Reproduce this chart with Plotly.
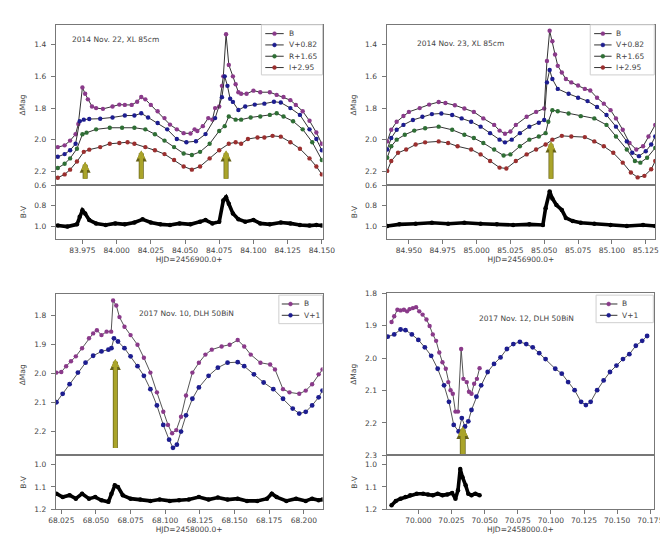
import plotly.graph_objects as go

# ---------------- DATA ----------------
# Panel 1: 2014 Nov. 22, XL 85cm  (HJD-2456900)
p1_b_x = [83.957, 83.962, 83.966, 83.970, 83.972, 83.975, 83.977, 83.979, 83.982, 83.985, 83.990, 83.997, 84.002, 84.006, 84.011, 84.015, 84.018, 84.021, 84.025, 84.030, 84.035, 84.039, 84.044, 84.049, 84.054, 84.057, 84.059, 84.063, 84.067, 84.070, 84.072, 84.075, 84.077, 84.078, 84.080, 84.082, 84.085, 84.087, 84.089, 84.091, 84.095, 84.100, 84.105, 84.112, 84.117, 84.122, 84.127, 84.131, 84.136, 84.141, 84.146, 84.150]
p1_b_y = [2.046, 2.035, 2.005, 1.965, 1.90, 1.67, 1.71, 1.745, 1.79, 1.80, 1.805, 1.79, 1.778, 1.78, 1.78, 1.76, 1.73, 1.745, 1.78, 1.82, 1.863, 1.904, 1.934, 1.958, 1.96, 1.934, 1.944, 1.914, 1.863, 1.873, 1.80, 1.79, 1.66, 1.60, 1.335, 1.528, 1.60, 1.65, 1.70, 1.71, 1.71, 1.69, 1.70, 1.70, 1.717, 1.73, 1.75, 1.78, 1.82, 1.88, 1.954, 2.025]
p1_v_x = [83.957, 83.962, 83.966, 83.970, 83.973, 83.976, 83.980, 83.988, 83.997, 84.006, 84.013, 84.018, 84.023, 84.030, 84.037, 84.044, 84.051, 84.058, 84.065, 84.072, 84.077, 84.079, 84.081, 84.083, 84.085, 84.089, 84.094, 84.101, 84.108, 84.115, 84.120, 84.127, 84.134, 84.141, 84.146, 84.150]
p1_v_y = [2.107, 2.09, 2.066, 2.025, 1.883, 1.873, 1.869, 1.867, 1.859, 1.847, 1.847, 1.833, 1.859, 1.894, 1.934, 1.995, 2.015, 2.009, 1.964, 1.863, 1.731, 1.60, 1.66, 1.741, 1.761, 1.812, 1.79, 1.778, 1.772, 1.76, 1.765, 1.80, 1.843, 1.934, 1.995, 2.066]
p1_r_x = [83.957, 83.962, 83.966, 83.971, 83.975, 83.978, 83.985, 83.995, 84.004, 84.013, 84.021, 84.028, 84.035, 84.042, 84.049, 84.055, 84.061, 84.068, 84.075, 84.079, 84.082, 84.087, 84.091, 84.098, 84.105, 84.112, 84.117, 84.122, 84.129, 84.136, 84.143, 84.150]
p1_r_y = [2.178, 2.151, 2.117, 2.056, 1.965, 1.955, 1.934, 1.924, 1.924, 1.924, 1.934, 1.965, 2.005, 2.046, 2.086, 2.096, 2.076, 2.025, 1.944, 1.914, 1.853, 1.873, 1.873, 1.859, 1.853, 1.843, 1.833, 1.853, 1.883, 1.934, 2.015, 2.127]
p1_i_x = [83.957, 83.962, 83.966, 83.971, 83.976, 83.980, 83.988, 83.995, 84.002, 84.008, 84.013, 84.021, 84.028, 84.035, 84.042, 84.049, 84.055, 84.061, 84.068, 84.075, 84.082, 84.087, 84.091, 84.096, 84.103, 84.108, 84.114, 84.120, 84.127, 84.134, 84.141, 84.146, 84.150]
p1_i_y = [2.239, 2.218, 2.188, 2.137, 2.076, 2.062, 2.046, 2.025, 2.02, 2.015, 2.025, 2.046, 2.066, 2.09, 2.127, 2.168, 2.188, 2.168, 2.117, 2.066, 2.025, 2.015, 2.025, 1.995, 1.985, 1.985, 1.975, 1.98, 2.015, 2.056, 2.117, 2.168, 2.218]
p1_bv_x = [83.957, 83.964, 83.971, 83.973, 83.975, 83.977, 83.980, 83.985, 83.992, 83.999, 84.006, 84.013, 84.019, 84.025, 84.032, 84.039, 84.046, 84.054, 84.061, 84.065, 84.070, 84.075, 84.078, 84.080, 84.082, 84.085, 84.089, 84.094, 84.100, 84.105, 84.112, 84.120, 84.127, 84.134, 84.141, 84.146, 84.150]
p1_bv_y = [0.99, 1.0, 0.978, 0.905, 0.843, 0.874, 0.937, 0.969, 0.984, 0.969, 0.978, 0.96, 0.93, 0.96, 0.978, 0.984, 0.969, 0.978, 0.953, 0.937, 0.969, 0.953, 0.748, 0.717, 0.78, 0.874, 0.928, 0.953, 0.937, 0.969, 0.978, 0.96, 0.969, 0.984, 0.99, 0.984, 0.99]
p1_arrow_x = [83.977, 84.018, 84.080]
p1_arrow_tip = [2.139, 2.067, 2.067]
p1_arrow_tail = [2.255, 2.255, 2.255]

# Panel 2: 2014 Nov. 23, XL 85cm  (HJD-2456900)
p2_b_x = [84.934, 84.937, 84.941, 84.946, 84.950, 84.958, 84.965, 84.972, 84.977, 84.984, 84.991, 84.998, 85.005, 85.013, 85.017, 85.021, 85.025, 85.029, 85.037, 85.044, 85.050, 85.052, 85.054, 85.056, 85.058, 85.060, 85.063, 85.066, 85.070, 85.075, 85.080, 85.084, 85.089, 85.094, 85.099, 85.103, 85.108, 85.113, 85.118, 85.123, 85.127, 85.132]
p2_b_y = [2.01, 1.937, 1.886, 1.85, 1.824, 1.80, 1.778, 1.762, 1.768, 1.782, 1.803, 1.824, 1.865, 1.906, 1.942, 1.962, 1.948, 1.906, 1.855, 1.824, 1.803, 1.503, 1.313, 1.379, 1.462, 1.534, 1.576, 1.617, 1.638, 1.658, 1.679, 1.689, 1.735, 1.772, 1.813, 1.865, 1.937, 2.02, 2.061, 2.041, 1.979, 1.906]
p2_v_x = [84.934, 84.937, 84.941, 84.946, 84.953, 84.960, 84.967, 84.974, 84.982, 84.989, 84.996, 85.003, 85.010, 85.017, 85.021, 85.026, 85.032, 85.039, 85.046, 85.050, 85.052, 85.054, 85.056, 85.060, 85.068, 85.075, 85.082, 85.089, 85.096, 85.103, 85.111, 85.115, 85.120, 85.125, 85.129, 85.132]
p2_v_y = [2.061, 1.989, 1.937, 1.906, 1.875, 1.855, 1.838, 1.834, 1.844, 1.865, 1.886, 1.917, 1.958, 1.999, 2.016, 1.999, 1.958, 1.917, 1.892, 1.875, 1.638, 1.56, 1.617, 1.679, 1.71, 1.735, 1.756, 1.793, 1.844, 1.917, 2.01, 2.082, 2.103, 2.072, 2.03, 1.979]
p2_r_x = [84.934, 84.937, 84.941, 84.947, 84.954, 84.962, 84.972, 84.982, 84.991, 84.998, 85.005, 85.013, 85.020, 85.025, 85.032, 85.039, 85.046, 85.051, 85.053, 85.056, 85.060, 85.068, 85.077, 85.087, 85.096, 85.103, 85.111, 85.117, 85.121, 85.126, 85.132]
p2_r_y = [2.113, 2.041, 1.999, 1.968, 1.942, 1.927, 1.917, 1.937, 1.968, 1.989, 2.02, 2.061, 2.099, 2.092, 2.041, 1.999, 1.979, 1.958, 1.886, 1.813, 1.82, 1.834, 1.851, 1.865, 1.906, 1.979, 2.061, 2.134, 2.144, 2.113, 2.051]
p2_i_x = [84.934, 84.937, 84.942, 84.948, 84.955, 84.962, 84.972, 84.979, 84.986, 84.996, 85.003, 85.010, 85.017, 85.022, 85.029, 85.037, 85.044, 85.051, 85.056, 85.063, 85.070, 85.080, 85.087, 85.094, 85.101, 85.108, 85.114, 85.119, 85.124, 85.129, 85.132]
p2_i_y = [2.196, 2.134, 2.082, 2.061, 2.03, 2.016, 2.01, 2.02, 2.041, 2.061, 2.092, 2.134, 2.175, 2.181, 2.134, 2.092, 2.061, 2.03, 1.999, 1.975, 1.979, 1.983, 2.01, 2.041, 2.082, 2.144, 2.206, 2.237, 2.227, 2.186, 2.134]
p2_bv_x = [84.934, 84.943, 84.955, 84.967, 84.979, 84.991, 85.003, 85.015, 85.027, 85.039, 85.049, 85.051, 85.054, 85.056, 85.059, 85.063, 85.066, 85.071, 85.077, 85.087, 85.099, 85.111, 85.123, 85.132]
p2_bv_y = [0.994, 0.978, 0.972, 0.963, 0.972, 0.963, 0.972, 0.978, 0.984, 0.978, 0.984, 0.823, 0.662, 0.73, 0.792, 0.839, 0.916, 0.947, 0.963, 0.972, 0.984, 0.994, 0.984, 0.994]
p2_arrow_x = [85.055]
p2_arrow_tip = [2.01]
p2_arrow_tail = [2.255]

# Panel 3: 2017 Nov. 10, DLH 50BiN  (HJD-2458000)
p3_b_x = [68.0215, 68.025, 68.0285, 68.032, 68.0355, 68.040, 68.045, 68.048, 68.0507, 68.054, 68.0577, 68.061, 68.0624, 68.0647, 68.067, 68.0706, 68.075, 68.080, 68.0846, 68.0893, 68.094, 68.0986, 68.102, 68.105, 68.108, 68.1114, 68.115, 68.1196, 68.1243, 68.129, 68.1336, 68.1407, 68.1465, 68.1523, 68.157, 68.1617, 68.1687, 68.1757, 68.1792, 68.185, 68.1897, 68.1967, 68.2014, 68.206, 68.2107, 68.2135]
p3_b_y = [1.997, 1.995, 1.975, 1.958, 1.941, 1.913, 1.879, 1.862, 1.851, 1.868, 1.856, 1.856, 1.749, 1.766, 1.806, 1.839, 1.868, 1.901, 1.946, 1.997, 2.065, 2.132, 2.177, 2.206, 2.195, 2.149, 2.076, 1.997, 1.963, 1.935, 1.918, 1.907, 1.901, 1.885, 1.907, 1.935, 1.963, 1.969, 1.986, 2.054, 2.065, 2.07, 2.059, 2.037, 2.003, 1.986]
p3_v_x = [68.0215, 68.026, 68.031, 68.037, 68.0425, 68.048, 68.054, 68.059, 68.0612, 68.063, 68.0659, 68.0706, 68.075, 68.080, 68.0846, 68.0893, 68.094, 68.0986, 68.1028, 68.1056, 68.1084, 68.1114, 68.115, 68.1196, 68.1243, 68.1313, 68.138, 68.145, 68.1523, 68.157, 68.164, 68.171, 68.178, 68.185, 68.192, 68.1967, 68.2014, 68.206, 68.2107, 68.2135]
p3_v_y = [2.099, 2.07, 2.037, 1.997, 1.963, 1.939, 1.924, 1.918, 1.913, 1.879, 1.89, 1.913, 1.941, 1.975, 2.008, 2.054, 2.11, 2.177, 2.228, 2.256, 2.245, 2.2, 2.144, 2.087, 2.048, 2.008, 1.98, 1.963, 1.961, 1.975, 2.003, 2.031, 2.054, 2.087, 2.121, 2.138, 2.132, 2.11, 2.082, 2.059]
p3_bv_x = [68.0215, 68.026, 68.031, 68.0355, 68.040, 68.045, 68.0495, 68.054, 68.059, 68.0612, 68.0636, 68.0659, 68.0694, 68.075, 68.082, 68.0893, 68.096, 68.1033, 68.110, 68.117, 68.1243, 68.1313, 68.138, 68.145, 68.1523, 68.159, 68.1664, 68.1734, 68.1769, 68.1804, 68.1874, 68.1944, 68.2014, 68.206, 68.2107, 68.2135]
p3_bv_y = [1.13, 1.145, 1.137, 1.152, 1.13, 1.152, 1.145, 1.159, 1.166, 1.13, 1.093, 1.1, 1.137, 1.152, 1.156, 1.162, 1.156, 1.162, 1.159, 1.156, 1.145, 1.156, 1.147, 1.156, 1.152, 1.162, 1.162, 1.152, 1.13, 1.145, 1.162, 1.152, 1.162, 1.152, 1.159, 1.156]
p3_arrow_x = [68.064]
p3_arrow_tip = [1.95]
p3_arrow_tail = [2.262]

# Panel 4: 2017 Nov. 12, DLH 50BiN  (HJD-2458000)
p4_b_x = [69.9798, 69.9818, 69.9842, 69.9866, 69.9891, 69.9915, 69.9934, 69.9959, 69.9983, 70.0007, 70.0032, 70.0061, 70.0085, 70.0109, 70.0134, 70.0158, 70.0182, 70.0207, 70.0226, 70.0243, 70.026, 70.028, 70.0299, 70.0323, 70.034, 70.0365, 70.0382, 70.0401, 70.0421, 70.0442, 70.0462]
p4_b_y = [1.889, 1.871, 1.851, 1.853, 1.851, 1.856, 1.849, 1.846, 1.843, 1.856, 1.866, 1.881, 1.901, 1.927, 1.947, 1.983, 2.013, 2.033, 2.074, 2.099, 2.11, 2.165, 2.165, 1.972, 2.064, 2.074, 2.104, 2.11, 2.079, 2.064, 2.031]
p4_v_x = [69.9769, 69.9818, 69.9866, 69.9903, 69.9951, 70.0, 70.0049, 70.0097, 70.0146, 70.0194, 70.0231, 70.0267, 70.0304, 70.0328, 70.0352, 70.0377, 70.0401, 70.0438, 70.0474, 70.0523, 70.0571, 70.062, 70.0668, 70.0717, 70.0766, 70.0814, 70.0863, 70.0912, 70.096, 70.1033, 70.1082, 70.113, 70.1179, 70.1228, 70.1264, 70.13, 70.1349, 70.1398, 70.1446, 70.1495, 70.1544, 70.1592, 70.1641, 70.1689, 70.1726]
p4_v_y = [1.934, 1.927, 1.912, 1.914, 1.927, 1.944, 1.967, 1.993, 2.033, 2.084, 2.135, 2.206, 2.226, 2.185, 2.211, 2.195, 2.16, 2.119, 2.084, 2.043, 2.018, 1.998, 1.972, 1.957, 1.95, 1.957, 1.967, 1.985, 2.003, 2.033, 2.048, 2.074, 2.099, 2.135, 2.145, 2.135, 2.099, 2.069, 2.043, 2.023, 2.003, 1.988, 1.962, 1.947, 1.932]
p4_bv_x = [69.9798, 69.983, 69.9866, 69.9903, 69.9939, 69.9988, 70.0036, 70.0073, 70.0109, 70.0146, 70.0182, 70.0219, 70.0255, 70.028, 70.0299, 70.0316, 70.0333, 70.0357, 70.0377, 70.0401, 70.043, 70.0462]
p4_bv_y = [1.181, 1.162, 1.152, 1.145, 1.137, 1.13, 1.13, 1.133, 1.137, 1.13, 1.137, 1.133, 1.127, 1.152, 1.115, 1.02, 1.057, 1.093, 1.13, 1.137, 1.13, 1.137]
p4_arrow_x = [70.0335]
p4_arrow_tip = [2.21]
p4_arrow_tail = [2.30]

# tick labels
p1_xticks = [83.975, 84.000, 84.025, 84.050, 84.075, 84.100, 84.125, 84.150]
p2_xticks = [84.950, 84.975, 85.000, 85.025, 85.050, 85.075, 85.100, 85.125]
p3_xticks = [68.025, 68.050, 68.075, 68.100, 68.125, 68.150, 68.175, 68.200]
p4_xticks = [70.000, 70.025, 70.050, 70.075, 70.100, 70.125, 70.150, 70.175]
top_yticks = [1.4, 1.6, 1.8, 2.0, 2.2]
top_bv_ticks = [0.6, 0.8, 1.0]
p3_yticks = [1.8, 1.9, 2.0, 2.1, 2.2]
p4_yticks = [1.8, 1.9, 2.0, 2.1, 2.2, 2.3]
bot_bv_ticks = [1.0, 1.1, 1.2]

labels_4band = ["B", "V+0.82", "R+1.65", "I+2.95"]
labels_2band = ["B", "V+1"]
titles = ["2014 Nov. 22, XL 85cm", "2014 Nov. 23, XL 85cm",
          "2017 Nov. 10, DLH 50BiN", "2017 Nov. 12, DLH 50BiN"]
xtitles = ["HJD=2456900.0+", "HJD=2456900.0+", "HJD=2458000.0+", "HJD=2458000.0+"]

# ---------------- STYLE ----------------
W, H = 668, 534
FONT = "DejaVu Sans"
TXT = "#444444"
AX = "#777777"
COL_B = "#8a3a8a"
COL_V = "#1d1d8f"
COL_R = "#2f6e35"
COL_I = "#9a2f2f"
ARROW = "#aaa42a"
ARROW_EDGE = "#66621a"


def px(v):
    return v / W


def py(v):
    return 1 - v / H


fig = go.Figure()


def add_curve(x, y, col, name, xa, ya, lc="#333333", ms=4.4):
    fig.add_trace(go.Scatter(
        x=x, y=y, mode="lines+markers", name=name, showlegend=False,
        line=dict(color=lc, width=1),
        marker=dict(color=col, size=ms, line=dict(width=0)),
        xaxis=xa, yaxis=ya))


def add_bv(x, y, xa, ya):
    fig.add_trace(go.Scatter(
        x=x, y=y, mode="lines+markers", name="B-V", showlegend=False,
        line=dict(color="black", width=3.6),
        marker=dict(color="black", size=4.5),
        xaxis=xa, yaxis=ya))


# panel 1
add_curve(p1_b_x, p1_b_y, COL_B, labels_4band[0], "x", "y")
add_curve(p1_v_x, p1_v_y, COL_V, labels_4band[1], "x", "y")
add_curve(p1_r_x, p1_r_y, COL_R, labels_4band[2], "x", "y")
add_curve(p1_i_x, p1_i_y, COL_I, labels_4band[3], "x", "y")
add_bv(p1_bv_x, p1_bv_y, "x2", "y2")
# panel 2
add_curve(p2_b_x, p2_b_y, COL_B, labels_4band[0], "x3", "y3")
add_curve(p2_v_x, p2_v_y, COL_V, labels_4band[1], "x3", "y3")
add_curve(p2_r_x, p2_r_y, COL_R, labels_4band[2], "x3", "y3")
add_curve(p2_i_x, p2_i_y, COL_I, labels_4band[3], "x3", "y3")
add_bv(p2_bv_x, p2_bv_y, "x4", "y4")
# panel 3
add_curve(p3_b_x, p3_b_y, COL_B, labels_2band[0], "x5", "y5", lc="#555555")
add_curve(p3_v_x, p3_v_y, COL_V, labels_2band[1], "x5", "y5", lc="#555555", ms=4.8)
add_bv(p3_bv_x, p3_bv_y, "x6", "y6")
# panel 4
add_curve(p4_b_x, p4_b_y, COL_B, labels_2band[0], "x7", "y7", lc="#555555")
add_curve(p4_v_x, p4_v_y, COL_V, labels_2band[1], "x7", "y7", lc="#555555", ms=4.8)
add_bv(p4_bv_x, p4_bv_y, "x8", "y8")

tickfont = dict(family=FONT, size=7.5, color=TXT)
titlefont = dict(family=FONT, size=7.5, color=TXT)

panels = [
    dict(xd=(42, 317), ym=(13, 176), ys=(176, 231), xr=[83.9555, 84.1505],
         xt=p1_xticks, yr=[2.285, 1.275], yt=top_yticks,
         sr=[1.12, 0.6], st=top_bv_ticks),
    dict(xd=(383, 660), ym=(13, 176), ys=(176, 231), xr=[84.9335, 85.132],
         xt=p2_xticks, yr=[2.285, 1.275], yt=top_yticks,
         sr=[1.12, 0.6], st=top_bv_ticks),
    dict(xd=(42, 317), ym=(287, 451), ys=(451, 506), xr=[68.021, 68.2135],
         xt=p3_xticks, yr=[2.282, 1.727], yt=p3_yticks,
         sr=[1.2, 0.96], st=bot_bv_ticks),
    dict(xd=(383, 659), ym=(286, 451), ys=(451, 506), xr=[69.976, 70.178],
         xt=p4_xticks, yr=[2.3, 1.8], yt=p4_yticks,
         sr=[1.2, 0.96], st=bot_bv_ticks),
]

layout_axes = {}
for i, p in enumerate(panels):
    km = 2 * i + 1
    ks = 2 * i + 2
    xm_key = "xaxis" if km == 1 else f"xaxis{km}"
    ym_key = "yaxis" if km == 1 else f"yaxis{km}"
    xs_key = f"xaxis{ks}"
    ys_key = f"yaxis{ks}"
    xm_id = "x" if km == 1 else f"x{km}"
    ym_id = "y" if km == 1 else f"y{km}"
    xs_id = f"x{ks}"
    ys_id = f"y{ks}"
    common = dict(showline=True, mirror=True, linecolor=AX, linewidth=1,
                  showgrid=False, zeroline=False, tickfont=tickfont,
                  ticks="outside", ticklen=4, tickcolor=AX)
    layout_axes[xm_key] = dict(common, domain=[px(p["xd"][0]), px(p["xd"][1])],
                               range=p["xr"], anchor=ym_id, showticklabels=False,
                               ticks="", tickvals=p["xt"])
    layout_axes[ym_key] = dict(common, domain=[py(p["ym"][1]), py(p["ym"][0])],
                               range=p["yr"], anchor=xm_id, tickvals=p["yt"],
                               tickformat=".1f", ticklabelstandoff=3,
                               title=dict(text="ΔMag", font=titlefont, standoff=7))
    layout_axes[xs_key] = dict(common, domain=[px(p["xd"][0]), px(p["xd"][1])],
                               range=p["xr"], anchor=ys_id, tickvals=p["xt"],
                               tickformat=".3f", ticklabelstandoff=0,
                               title=dict(text=xtitles[i], font=titlefont, standoff=0))
    layout_axes[ys_key] = dict(common, domain=[py(p["ys"][1]), py(p["ys"][0])],
                               range=p["sr"], anchor=xs_id, tickvals=p["st"],
                               tickformat=".1f", ticklabelstandoff=3,
                               title=dict(text="B-V", font=titlefont, standoff=6))

annotations = []
# panel titles
title_pos = [(57, 28), (412, 32), (126, 307), (476, 312)]
for t, (tx, ty) in zip(titles, title_pos):
    annotations.append(dict(text=t, xref="paper", yref="paper", x=px(tx), y=py(ty),
                            xanchor="left", yanchor="middle", showarrow=False,
                            font=dict(family=FONT, size=7.5, color=TXT)))

# arrows (outlined, olive-yellow)
arrow_sets = [("x", "y", p1_arrow_x, p1_arrow_tip, p1_arrow_tail, 3.6),
              ("x3", "y3", p2_arrow_x, p2_arrow_tip, p2_arrow_tail, 3.6),
              ("x5", "y5", p3_arrow_x, p3_arrow_tip, p3_arrow_tail, 3.6),
              ("x7", "y7", p4_arrow_x, p4_arrow_tip, p4_arrow_tail, 4.4)]
for xr_, yr_, xs, tips, tails, w in arrow_sets:
    for ax_x, tip, tail in zip(xs, tips, tails):
        for col, ww, sz in ((ARROW_EDGE, w + 1.4, 0.44), (ARROW, w, 0.45)):
            annotations.append(dict(
                x=ax_x, y=tip, ax=ax_x, ay=tail, xref=xr_, yref=yr_,
                axref=xr_, ayref=yr_, text="", showarrow=True,
                arrowhead=2, arrowsize=sz,
                arrowwidth=ww, arrowcolor=col))

shapes = []


def legend_box(box, line_x, text_x, rows, labels, colors):
    x0, y0, x1, y1 = box
    shapes.append(dict(type="rect", xref="paper", yref="paper",
                       x0=px(x0), x1=px(x1), y0=py(y1), y1=py(y0),
                       line=dict(color="#cfcfcf", width=1), fillcolor="white",
                       layer="above"))
    for lab, col, ry in zip(labels, colors, rows):
        shapes.append(dict(type="line", xref="paper", yref="paper",
                           x0=px(line_x[0]), x1=px(line_x[1]), y0=py(ry), y1=py(ry),
                           line=dict(color="#333333", width=1), layer="above"))
        cx = (line_x[0] + line_x[1]) / 2
        shapes.append(dict(type="circle", xref="paper", yref="paper",
                           x0=px(cx - 2), x1=px(cx + 2),
                           y0=py(ry + 2), y1=py(ry - 2),
                           line=dict(color=col, width=0.5), fillcolor=col,
                           layer="above"))
        annotations.append(dict(text=lab, xref="paper", yref="paper",
                                x=px(text_x), y=py(ry), xanchor="left",
                                yanchor="middle", showarrow=False,
                                font=dict(family=FONT, size=7.5, color=TXT)))


legend_box((254, 13, 317, 64), (258, 277), 280, [22, 33.5, 45, 56.5],
           labels_4band, [COL_B, COL_V, COL_R, COL_I])
legend_box((593, 13, 659, 64), (597, 615), 618, [22, 33.5, 45, 56.5],
           labels_4band, [COL_B, COL_V, COL_R, COL_I])
legend_box((272, 288, 317, 317), (275, 293), 296, [297, 308.5],
           labels_2band, [COL_B, COL_V])
legend_box((599, 288, 658, 316), (603, 621), 624, [297, 308.5],
           labels_2band, [COL_B, COL_V])

fig.update_layout(
    width=W, height=H, margin=dict(l=0, r=0, t=0, b=0),
    paper_bgcolor="white", plot_bgcolor="white",
    font=dict(family=FONT, size=7.5, color=TXT),
    showlegend=False, annotations=annotations, shapes=shapes,
    **layout_axes)

fig.write_html("out.html")
